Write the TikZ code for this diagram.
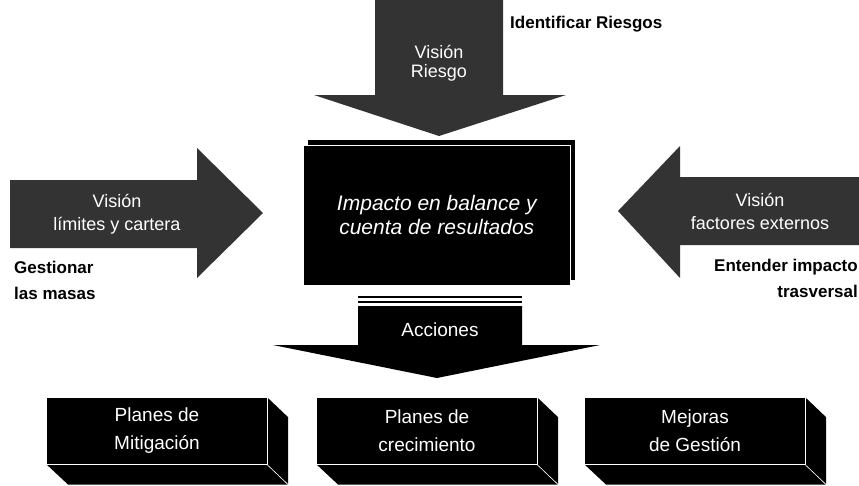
\documentclass[tikz,border=0pt]{standalone}
\usepackage{fontspec}
\setmainfont{Liberation Sans}

\tikzset{
  blockarrow/.style={fill=black!80,draw=none},
  arrowtext/.style={text=white,align=center,inner sep=0pt,font=\fontsize{18}{23}\selectfont},
  sidetext/.style={align=left,inner sep=0pt,font=\bfseries\fontsize{17}{26}\selectfont},
  facebox/.style={fill=black,minimum width=220,minimum height=67,inner sep=0pt,
    text=white,align=center,font=\fontsize{19}{28}\selectfont},
  edgeline/.style={draw=white,line width=.6pt}
}

\begin{document}
\begin{tikzpicture}[x=1pt,y=-1pt,line join=miter]
  \useasboundingbox (0,0) rectangle (859,485);
  % vision arrows
  \fill[blockarrow] (375,0)--(503,0)--(503,95)--(566,95)--(439,136)--(314,95)--(375,95)--cycle;
  \fill[blockarrow] (10,180)--(197,180)--(197,148)--(263,213)--(197,278)--(197,248)--(10,248)--cycle;
  \fill[blockarrow] (859,177)--(680,177)--(680,146)--(618,211)--(680,278)--(680,245)--(859,245)--cycle;
  \node[arrowtext,font=\fontsize{18}{19}\selectfont] (vriesgo) at (439,63) {Visión\\Riesgo};
  \node[arrowtext] (vmasas) at (117,214) {Visión\\límites y cartera};
  \node[arrowtext] (vfactores) at (760,211) {Visión\\factores externos};
  \node[sidetext,anchor=base west] (identificar) at (510,28) {Identificar Riesgos};
  \node[sidetext,anchor=base west] (gestionar) at (14,299) {Gestionar\\las masas};
  \node[sidetext,anchor=base east,align=right] (entender) at (858,297) {Entender impacto\\trasversal};
  % impacto box
  \fill (308,140) rectangle (575,280);
  \node[fill=black,edgeline,minimum width=267,minimum height=140,anchor=north west,
    text=white,align=center,font=\itshape\fontsize{21}{24}\selectfont] (impacto) at (303,145)
    {Impacto en balance y\\cuenta de resultados};
  % acciones arrow
  \coordinate (bar) at (358,297);
  \draw[line width=2.5pt] (bar)--++(164,0);
  \draw[line width=1.5pt] (bar)++(0,5)--++(164,0);
  \fill (358,306)--(522,306)--(522,345)--(600,345)--(437,378)--(273,345)--(358,345)--cycle;
  \node[arrowtext,font=\fontsize{19}{23}\selectfont] (acciones) at (440,330) {Acciones};
  % action boxes
  \foreach \cx/\name/\txt in {157/mitigacion/Planes de\\Mitigación,
      427/crecimiento/Planes de\\crecimiento,
      695/gestion/Mejoras\\de Gestión} {
    \node[facebox] (\name) at (\cx,431) {\txt};
    \fill (\name.north east)--++(21,20)--++(0,67)--(\name.south east)--cycle;
    \fill (\name.south west)--(\name.south east)--++(21,20)--++(-220,0)--cycle;
    \draw[edgeline] (\name.south west)--(\name.south east)--(\name.north east);
    \draw[edgeline] (\name.south east)--++(21,20);
  }
\end{tikzpicture}
\end{document}
